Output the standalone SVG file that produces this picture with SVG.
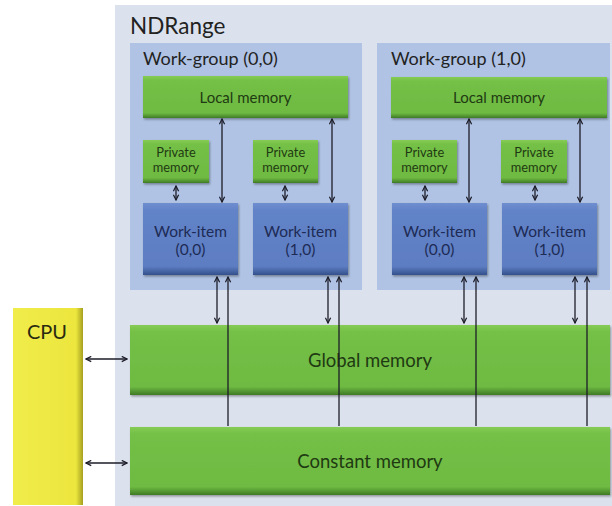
<svg xmlns="http://www.w3.org/2000/svg" width="612" height="506" viewBox="0 0 612 506">
  <defs>
    <linearGradient id="gGreen" x1="0" y1="0" x2="0" y2="1">
      <stop offset="0" stop-color="#86cc55"/>
      <stop offset="0.1" stop-color="#74c046"/>
      <stop offset="0.88" stop-color="#6eba42"/>
      <stop offset="1" stop-color="#3f7a26"/>
    </linearGradient>
    <linearGradient id="gBlue" x1="0" y1="0" x2="0" y2="1">
      <stop offset="0" stop-color="#6f8ed0"/>
      <stop offset="0.1" stop-color="#6283c8"/>
      <stop offset="0.88" stop-color="#5d7dc2"/>
      <stop offset="1" stop-color="#34508c"/>
    </linearGradient>
    <linearGradient id="gYellow" x1="0" y1="0" x2="1" y2="0">
      <stop offset="0" stop-color="#f0ec4a"/>
      <stop offset="0.9" stop-color="#ece63e"/>
      <stop offset="1" stop-color="#a6a020"/>
    </linearGradient>
    <filter id="shadow" x="-10%" y="-10%" width="125%" height="130%">
      <feDropShadow dx="1" dy="1.5" stdDeviation="1.2" flood-color="#000" flood-opacity="0.35"/>
    </filter>
    <marker id="ah" viewBox="0 0 8 8" refX="7" refY="4" markerWidth="7" markerHeight="7" markerUnits="userSpaceOnUse" orient="auto-start-reverse">
      <path d="M1,1 L7,4 L1,7" fill="none" stroke="#1c1c28" stroke-width="1.4"/>
    </marker>
    <style>
      text { font-family: Lato, "Open Sans", "Liberation Sans", sans-serif; }
      .green { fill: url(#gGreen); filter: url(#shadow); }
      .blue { fill: url(#gBlue); filter: url(#shadow); }
      .gtxt { fill: #1f3a12; text-anchor: middle; }
      .ptxt { fill: #1f3a12; text-anchor: middle; font-size: 12.8px; }
      .btxt { fill: #1d2b55; text-anchor: middle; font-size: 15.5px; }
      .title { fill: #222; }
      .wire { stroke: #1c1c28; stroke-width: 1.3; fill: none; }
      .bi { marker-start: url(#ah); marker-end: url(#ah); }
      .up { marker-end: url(#ah); }
    </style>
  </defs>

  <rect width="612" height="506" fill="#ffffff"/>

  <!-- NDRange container -->
  <g id="ndrange">
    <rect x="115" y="5" width="497" height="501" fill="#dce2ed"/>
    <text class="title" x="130" y="34" font-size="22.5">NDRange</text>
  </g>

  <!-- Work-group (0,0) -->
  <g id="workgroup-0-0">
    <rect x="130" y="43" width="232" height="247" fill="#b0c3e4"/>
    <text class="title" x="143" y="65" font-size="18">Work-group (0,0)</text>
  </g>
  <g id="local-0">
    <rect class="green" x="143" y="76" width="205" height="42"/>
    <text class="gtxt" x="245.5" y="103" font-size="15">Local memory</text>
  </g>
  <g id="private-0-0">
    <rect class="green" x="143" y="140" width="66" height="43"/>
    <text class="ptxt" x="176" y="157">Private</text>
    <text class="ptxt" x="176" y="172">memory</text>
  </g>
  <g id="private-0-1">
    <rect class="green" x="253" y="140" width="65" height="43"/>
    <text class="ptxt" x="285.5" y="157">Private</text>
    <text class="ptxt" x="285.5" y="172">memory</text>
  </g>
  <g id="workitem-0-0">
    <rect class="blue" x="143" y="203" width="95" height="72"/>
    <text class="btxt" x="190.5" y="237">Work-item</text>
    <text class="btxt" x="190.5" y="255">(0,0)</text>
  </g>
  <g id="workitem-0-1">
    <rect class="blue" x="253" y="203" width="95" height="72"/>
    <text class="btxt" x="300.5" y="237">Work-item</text>
    <text class="btxt" x="300.5" y="255">(1,0)</text>
  </g>

  <!-- Work-group (1,0) -->
  <g id="workgroup-1-0">
    <rect x="377" y="43" width="233" height="247" fill="#b0c3e4"/>
    <text class="title" x="391" y="65" font-size="18">Work-group (1,0)</text>
  </g>
  <g id="local-1">
    <rect class="green" x="391" y="77" width="216" height="41"/>
    <text class="gtxt" x="499" y="103" font-size="15">Local memory</text>
  </g>
  <g id="private-1-0">
    <rect class="green" x="392" y="140" width="65" height="43"/>
    <text class="ptxt" x="424.5" y="157">Private</text>
    <text class="ptxt" x="424.5" y="172">memory</text>
  </g>
  <g id="private-1-1">
    <rect class="green" x="501" y="140" width="66" height="43"/>
    <text class="ptxt" x="534" y="157">Private</text>
    <text class="ptxt" x="534" y="172">memory</text>
  </g>
  <g id="workitem-1-0">
    <rect class="blue" x="392" y="203" width="95" height="72"/>
    <text class="btxt" x="439.5" y="237">Work-item</text>
    <text class="btxt" x="439.5" y="255">(0,0)</text>
  </g>
  <g id="workitem-1-1">
    <rect class="blue" x="502" y="203" width="95" height="72"/>
    <text class="btxt" x="549.5" y="237">Work-item</text>
    <text class="btxt" x="549.5" y="255">(1,0)</text>
  </g>

  <!-- Device-wide memories -->
  <g id="global-memory">
    <rect class="green" x="130" y="325" width="480" height="70"/>
    <text class="gtxt" x="370" y="367" font-size="18.5">Global memory</text>
  </g>
  <g id="constant-memory">
    <rect class="green" x="130" y="427" width="480" height="68"/>
    <text class="gtxt" x="370" y="468" font-size="18.5">Constant memory</text>
  </g>

  <!-- Host -->
  <g id="cpu">
    <rect x="13" y="308" width="70" height="197" fill="url(#gYellow)"/>
    <text x="27" y="339" font-size="20" fill="#2a2a10">CPU</text>
  </g>

  <!-- Connectors -->
  <g id="connectors">
    <!-- local memory <-> work-items -->
    <line class="wire bi" x1="222" y1="119" x2="222" y2="202"/>
    <line class="wire bi" x1="332" y1="119" x2="332" y2="202"/>
    <line class="wire bi" x1="469" y1="119" x2="469" y2="202"/>
    <line class="wire bi" x1="580" y1="119" x2="580" y2="202"/>
    <!-- private memory <-> work-items -->
    <line class="wire bi" x1="176" y1="186" x2="176" y2="200"/>
    <line class="wire bi" x1="285" y1="186" x2="285" y2="200"/>
    <line class="wire bi" x1="425" y1="186" x2="425" y2="200"/>
    <line class="wire bi" x1="535" y1="186" x2="535" y2="200"/>
    <!-- work-items <-> global memory -->
    <line class="wire bi" x1="217" y1="277" x2="217" y2="323"/>
    <line class="wire bi" x1="328" y1="277" x2="328" y2="323"/>
    <line class="wire bi" x1="464" y1="277" x2="464" y2="323"/>
    <line class="wire bi" x1="575" y1="277" x2="575" y2="323"/>
    <!-- constant memory -> work-items -->
    <line class="wire up" x1="228" y1="426" x2="228" y2="277"/>
    <line class="wire up" x1="339" y1="426" x2="339" y2="277"/>
    <line class="wire up" x1="476" y1="426" x2="476" y2="277"/>
    <line class="wire up" x1="587" y1="426" x2="587" y2="277"/>
    <!-- CPU <-> global / constant memory -->
    <line class="wire bi" x1="86" y1="359" x2="127" y2="359"/>
    <line class="wire bi" x1="86" y1="463" x2="127" y2="463"/>
  </g>
</svg>
